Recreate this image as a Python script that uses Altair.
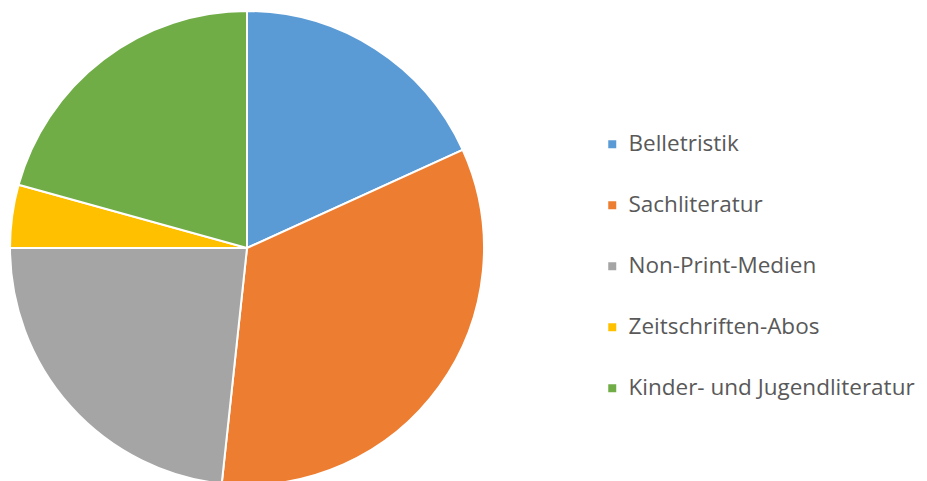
import altair as alt
import pandas as pd

categories = ["Belletristik", "Sachliteratur", "Non-Print-Medien", "Zeitschriften-Abos", "Kinder- und Jugendliteratur"]
shares = [18.2, 33.5, 23.3, 4.3, 20.7]
colors = ["#5B9BD5", "#ED7D31", "#A5A5A5", "#FFC000", "#70AD47"]

df = pd.DataFrame({"Kategorie": categories, "Anteil": shares, "order": list(range(len(categories)))})

chart = alt.Chart(df).mark_arc(stroke="white", strokeWidth=2).encode(
    theta=alt.Theta("Anteil:Q", stack=True),
    order=alt.Order("order:Q"),
    x=alt.value(239),
    y=alt.value(240),
    radius=alt.value(237),
    color=alt.Color(
        "Kategorie:N",
        scale=alt.Scale(domain=categories, range=colors),
        sort=categories,
        legend=alt.Legend(
            title=None,
            orient="none",
            legendX=593,
            legendY=125,
            symbolType="square",
            symbolSize=64,
            symbolStrokeWidth=0,
            labelFont="Open Sans",
            labelFontSize=22.5,
            labelColor="#595959",
            labelOffset=5,
            rowPadding=38,
            labelLimit=400,
        ),
    ),
).properties(
    width=911, height=473, autosize=alt.AutoSizeParams(type="none"), padding=0
).configure_view(stroke=None)

chart.save("out.html", embed_options={"renderer": "svg", "actions": False})
